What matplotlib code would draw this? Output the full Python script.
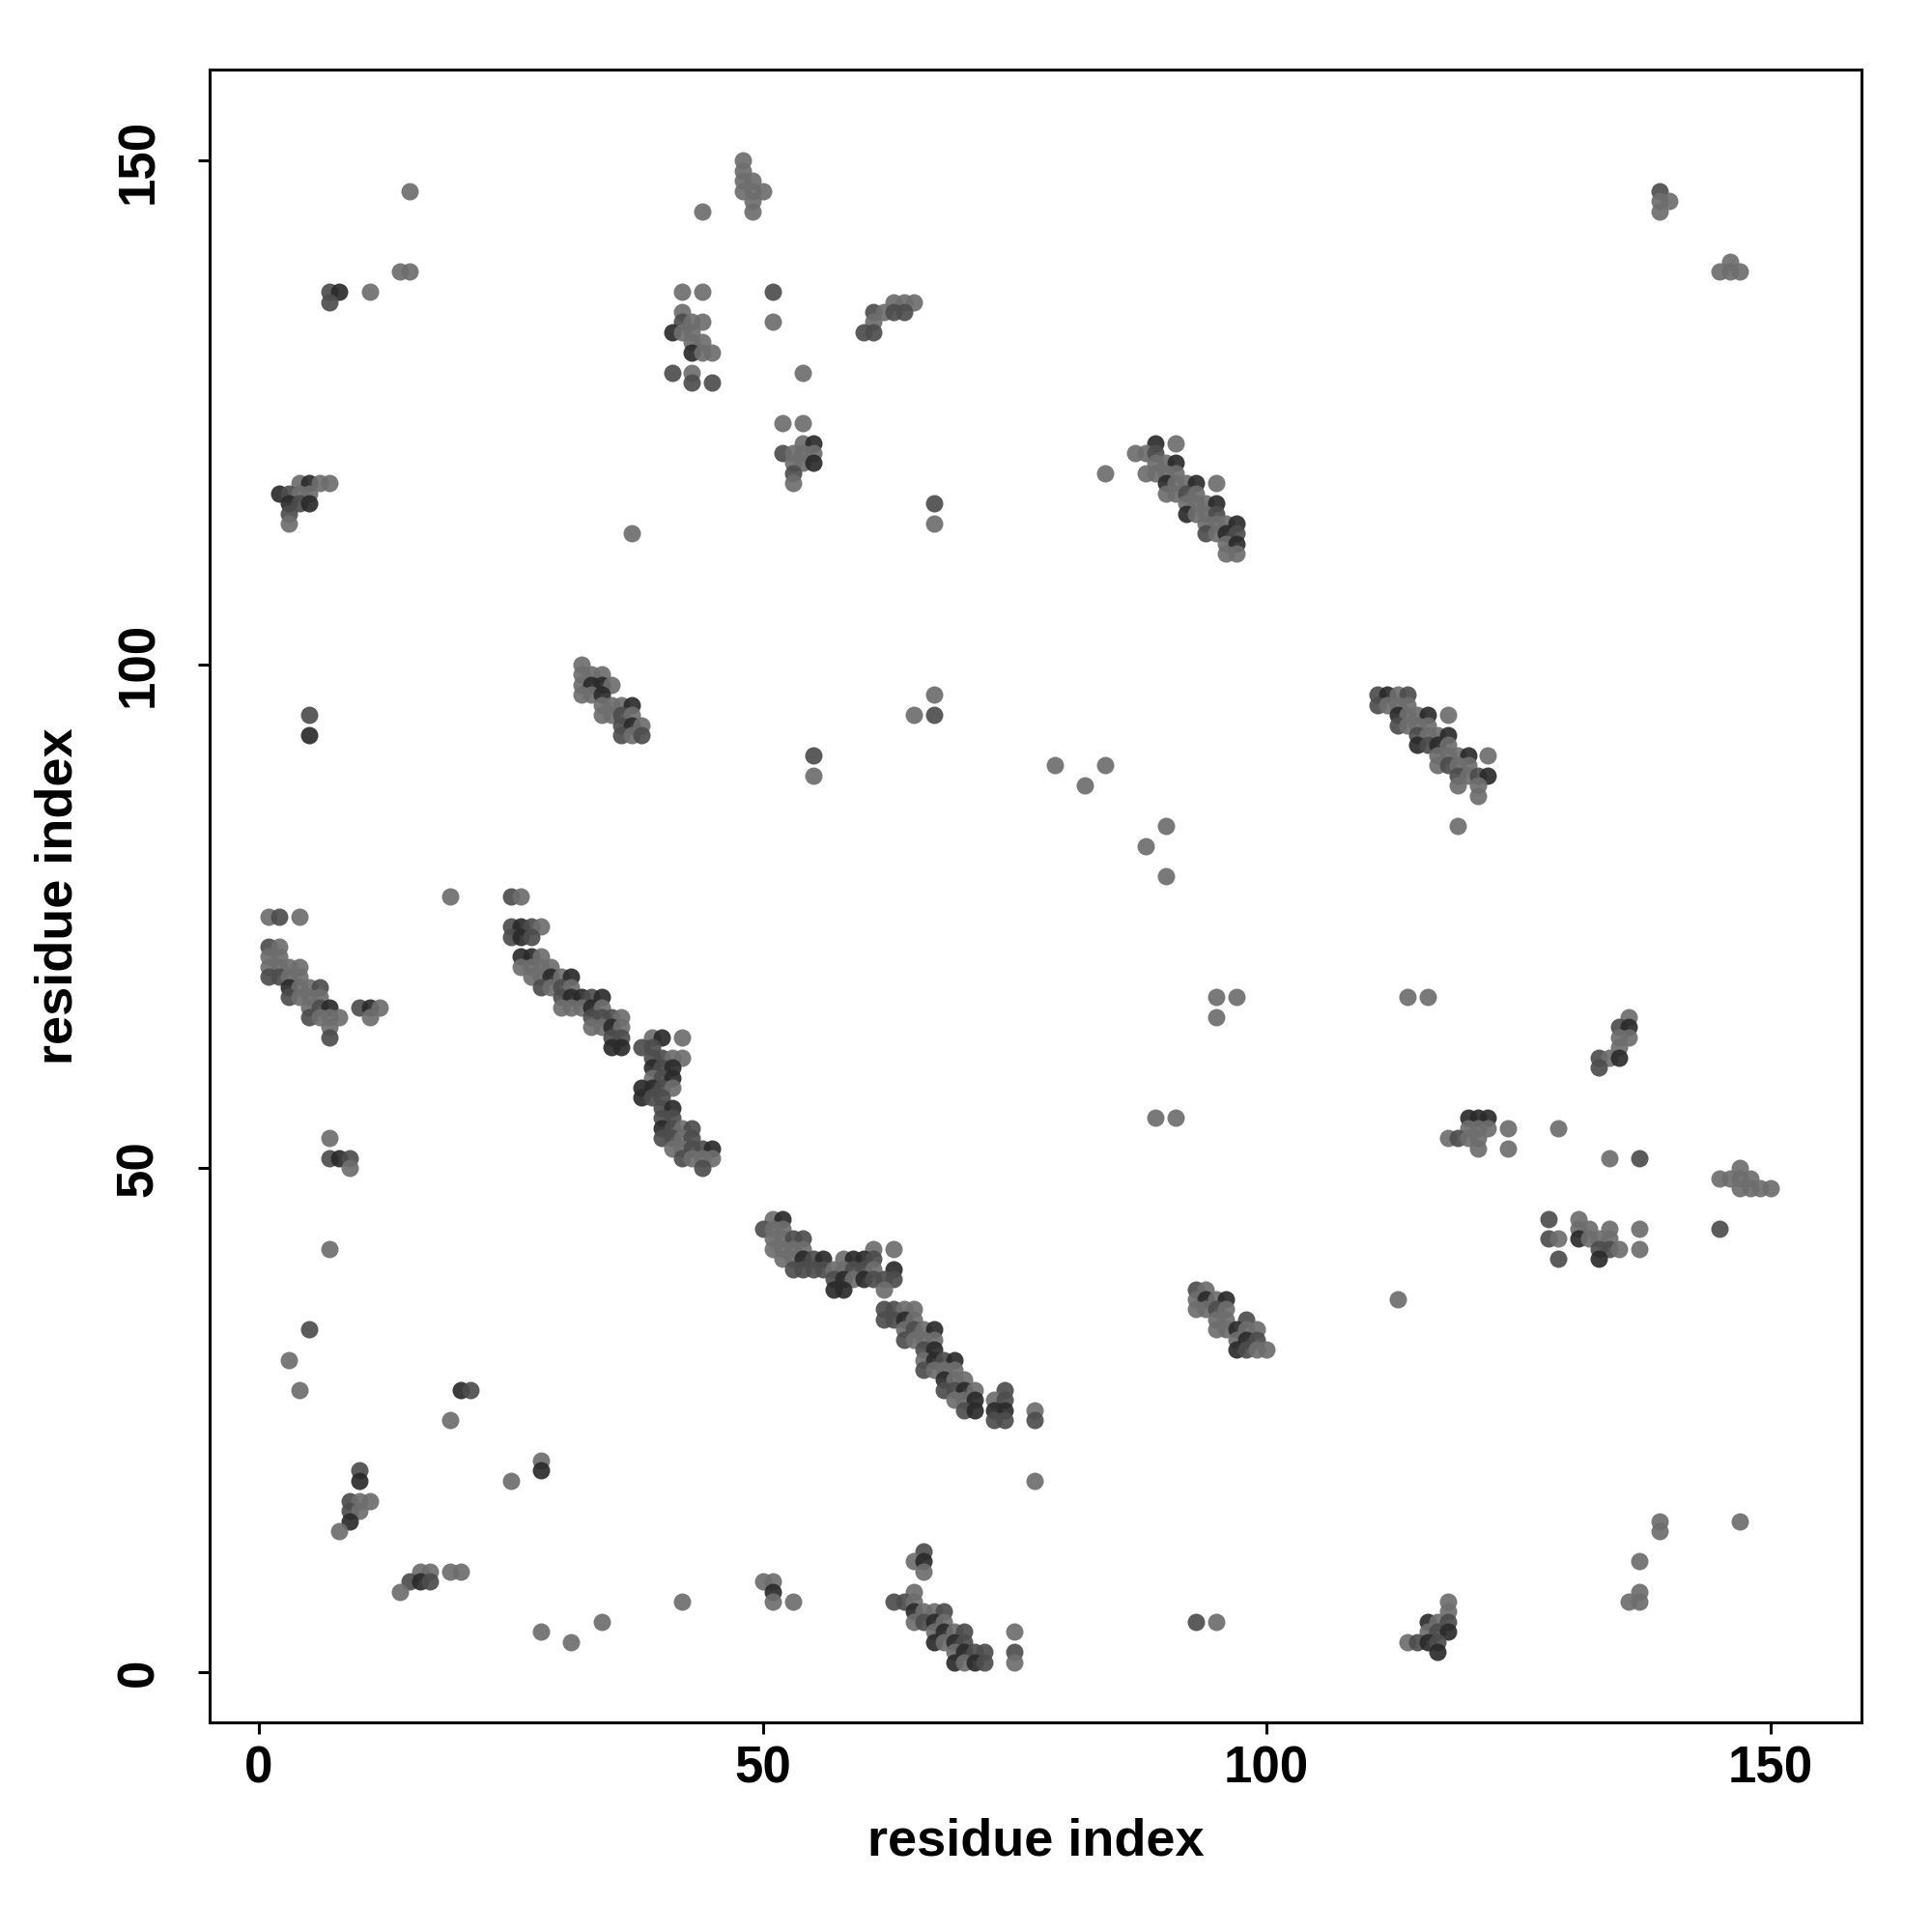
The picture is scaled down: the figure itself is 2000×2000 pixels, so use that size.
import matplotlib
matplotlib.use("Agg")
import matplotlib.pyplot as plt

# contacts, one row per j : residues i in that row
row_j = [150, 149, 148, 147, 146, 145, 140, 139, 137, 136, 135, 134, 133, 132, 131, 129, 128, 124,
         122, 121, 120, 119, 118, 117, 116, 115, 114, 113, 112, 111, 100, 99, 98, 97, 96, 95, 94, 93,
         92, 91, 90, 89, 88, 87, 84, 82, 79, 77, 75, 74, 73, 72, 71, 70, 69, 68, 67, 66, 65, 64, 63,
         62, 61, 60, 59, 58, 57, 56, 55, 54, 53, 52, 51, 50, 49, 48, 45, 44, 43, 42, 41, 40, 39, 38,
         37, 36, 35, 34, 33, 32, 31, 30, 29, 28, 27, 26, 25, 21, 20, 19, 17, 16, 15, 14, 12, 11, 10,
         9, 8, 7, 6, 5, 4, 3, 2, 1]
row_i = [
    [48], [48], [48, 49], [15, 48, 49, 50, 139], [49, 139, 140], [44, 49, 139], [146],
    [14, 15, 145, 146, 147], [7, 8, 11, 42, 44, 51], [7, 63, 64, 65], [42, 61, 62, 63, 64],
    [42, 43, 44, 51, 61], [41, 42, 43, 60, 61], [43, 44], [43, 44, 45], [41, 43, 54], [43, 45],
    [52, 54], [54, 55, 89, 91], [52, 53, 54, 55, 87, 88, 89], [53, 54, 55, 89, 90, 91],
    [53, 84, 88, 89, 90, 91], [4, 5, 6, 7, 53, 90, 91, 92, 93, 95], [2, 3, 4, 5, 90, 91, 92, 93],
    [3, 4, 5, 67, 92, 93, 94, 95], [3, 92, 93, 94, 95], [3, 67, 94, 95, 96, 97],
    [37, 94, 95, 96, 97], [96, 97], [96, 97], [32], [32, 33, 34], [32, 33, 34, 35],
    [32, 33, 34, 67, 111, 112, 113, 114], [34, 35, 36, 37, 111, 112, 113, 114],
    [5, 34, 35, 36, 37, 65, 67, 113, 114, 115, 116, 118], [36, 37, 38, 113, 114, 115, 116],
    [5, 36, 37, 38, 115, 116, 117, 118], [115, 116, 117, 118], [55, 117, 118, 119, 120, 122],
    [79, 84, 117, 118, 119, 120], [55, 119, 120, 121, 122], [82, 119, 121], [121], [90, 119],
    [88], [90], [19, 25, 26], [1, 2, 4], [25, 26, 27, 28], [25, 26, 27], [1, 2],
    [1, 2, 26, 27, 28], [1, 2, 3, 4, 26, 27, 28, 29], [1, 2, 3, 4, 27, 28, 29, 30, 31],
    [3, 4, 5, 6, 28, 29, 30, 31], [3, 4, 5, 6, 30, 31, 32, 33, 34, 95, 97, 114, 116],
    [5, 6, 7, 10, 11, 12, 30, 31, 32, 33, 34], [5, 6, 7, 8, 11, 33, 34, 35, 36, 95, 136],
    [7, 33, 34, 35, 36, 135, 136], [7, 35, 36, 39, 40, 42, 135, 136], [35, 36, 38, 39, 135],
    [39, 40, 41, 42, 133, 134, 135], [39, 40, 41, 133], [39, 40, 41], [38, 39, 40, 41],
    [38, 39, 40], [40, 41], [40, 41, 89, 91, 120, 121, 122], [40, 41, 42, 43, 120, 121, 122, 124, 129],
    [7, 40, 41, 42, 43, 118, 119, 120, 121], [41, 42, 43, 44, 45, 121, 124],
    [7, 8, 9, 42, 43, 44, 45, 134, 137], [9, 44, 147], [145, 146, 147, 148], [147, 148, 149, 150],
    [51, 52, 128, 131], [50, 51, 52, 131, 132, 134, 137, 145],
    [51, 52, 53, 54, 128, 129, 131, 132, 133, 134], [7, 51, 52, 53, 54, 61, 63, 133, 134, 135, 137],
    [52, 53, 54, 55, 56, 58, 59, 60, 61, 129, 133], [53, 54, 55, 56, 57, 58, 59, 60, 61, 63],
    [57, 58, 59, 60, 61, 62, 63], [57, 58, 62, 93, 94], [93, 94, 95, 96, 113],
    [62, 63, 64, 65, 93, 94, 95, 96], [62, 63, 64, 65, 95, 96, 98],
    [5, 64, 65, 66, 67, 95, 96, 97, 98, 99], [64, 65, 66, 67, 97, 98, 99],
    [66, 67, 97, 98, 99, 100], [3, 66, 67, 68, 69], [66, 67, 68, 69], [68, 69, 70],
    [4, 20, 21, 68, 69, 70, 71, 74], [69, 70, 71, 73, 74], [70, 71, 73, 74, 77], [19, 73, 74, 77],
    [28], [10, 28], [10, 25, 77], [9, 10, 11], [9, 10], [9, 139, 147], [8, 139], [66],
    [65, 66, 137], [16, 17, 19, 20, 66], [15, 16, 17, 50, 51], [14, 51, 65, 137],
    [42, 51, 53, 63, 64, 65, 118, 136, 137], [65, 66, 67, 68, 118],
    [34, 65, 66, 67, 68, 93, 95, 116, 117, 118], [28, 67, 68, 69, 70, 75, 116, 117, 118],
    [31, 67, 68, 69, 70, 114, 115, 116, 117], [69, 70, 71, 72, 75, 117], [69, 70, 71, 72, 75],
]

dark_contacts = [
    (26, 74), (26, 73), (26, 71), (27, 71), (29, 69), (31, 69), (31, 67), (32, 67), (34, 67), (33, 66),
    (35, 64), (35, 62), (36, 62), (40, 63), (39, 60), (41, 60), (41, 59), (39, 58), (38, 58), (38, 57),
    (41, 56), (40, 54), (45, 52), (52, 45), (54, 41), (56, 41), (57, 38), (58, 38), (58, 39), (60, 39),
    (59, 41), (60, 41), (63, 40), (64, 35), (67, 34), (67, 32), (67, 31), (69, 31), (68, 29), (70, 28),
    (71, 27), (71, 26), (73, 26), (74, 26), (65, 6), (67, 5), (68, 4), (69, 3), (70, 2), (67, 3), (66, 11),
    (69, 1), (71, 1), (89, 122), (91, 120), (90, 118), (93, 118), (92, 115), (95, 116), (97, 114), (97, 112),
    (96, 113), (112, 97), (113, 95), (116, 95), (118, 93), (115, 92), (117, 92), (120, 91), (122, 89),
    (37, 96), (37, 94), (33, 98), (34, 98), (34, 97), (3, 68), (7, 66), (11, 66), (41, 133), (43, 131),
    (55, 122), (55, 120), (94, 37), (96, 37), (97, 34), (98, 33), (97, 32), (116, 5), (116, 3), (117, 2),
    (118, 4), (136, 64), (135, 61), (131, 43), (133, 41), (2, 117), (3, 116), (5, 118), (5, 116),
    (120, 55), (121, 55), (122, 55), (8, 137), (8, 51), (5, 93), (20, 28), (28, 20), (10, 19), (9, 15),
    (16, 9), (51, 8),
]
mid_contacts = [
    (25, 77), (2, 75), (25, 74), (27, 74), (25, 73), (27, 73), (28, 68), (30, 68), (30, 67), (33, 67),
    (33, 65), (34, 65), (35, 65), (35, 63), (36, 63), (38, 62), (39, 62), (39, 61), (40, 61), (40, 60),
    (40, 59), (40, 58), (39, 57), (40, 57), (40, 56), (41, 55), (40, 55), (41, 54), (40, 53), (41, 53),
    (43, 53), (43, 52), (44, 52), (42, 51), (44, 50), (43, 54), (50, 44), (54, 43), (53, 43), (53, 40),
    (54, 40), (55, 40), (56, 40), (55, 41), (57, 39), (59, 40), (60, 40), (61, 39), (61, 41), (62, 39),
    (63, 39), (62, 36), (62, 35), (63, 36), (63, 35), (64, 33), (65, 34), (66, 32), (66, 30), (68, 31),
    (68, 28), (69, 28), (70, 26), (74, 28), (74, 27), (73, 25), (74, 25), (77, 25), (66, 12), (63, 7),
    (64, 7), (68, 6), (66, 5), (70, 4), (70, 3), (71, 2), (72, 2), (72, 1), (75, 2), (93, 5), (67, 116),
    (89, 121), (95, 115), (97, 113), (94, 113), (92, 117), (111, 97), (111, 96), (114, 97), (113, 94),
    (115, 93), (116, 92), (119, 89), (121, 89), (118, 90), (36, 95), (35, 97), (36, 94), (38, 93),
    (36, 93), (1, 69), (2, 69), (3, 67), (5, 65), (6, 66), (7, 63), (2, 75), (1, 72), (6, 68), (10, 66),
    (42, 134), (41, 129), (45, 128), (43, 128), (51, 137), (53, 119), (52, 121), (61, 133), (60, 133),
    (61, 135), (63, 135), (64, 135), (93, 38), (95, 36), (98, 35), (99, 33), (98, 32), (117, 4), (117, 3),
    (115, 3), (118, 5), (135, 64), (133, 60), (133, 61), (128, 45), (128, 43), (129, 41), (133, 42),
    (134, 42), (137, 51), (3, 117), (4, 116), (3, 115), (7, 137), (7, 136), (5, 95), (5, 34), (21, 28),
    (7, 51), (9, 51), (17, 9), (15, 9), (10, 20), (9, 16), (9, 17), (139, 147), (145, 44), (119, 53),
    (67, 95), (55, 91),
]
tick_values = [0, 50, 100, 150]

plt.rcParams['font.family'] = ['Liberation Sans', 'DejaVu Sans']

fig = plt.figure(figsize=(10, 10), dpi=200)
ax = fig.add_axes([217 / 2000, 1 - 1783 / 2000, 1710 / 2000, 1711 / 2000])

for j, residues in zip(row_j, row_i):
    for i in residues:
        if (i, j) in dark_contacts:
            grey = 0.17
        elif (i, j) in mid_contacts:
            grey = 0.3
        else:
            grey = 0.43
        ax.scatter(i, j, s=42, color=str(grey), alpha=0.92, linewidths=0, clip_on=False)

ax.set_xlim(-4.89, 159.06)
ax.set_ylim(-4.99, 159.06)
ax.set_xticks(tick_values)
ax.set_yticks(tick_values)
ax.tick_params(axis='both', length=4.3, width=1.1, labelsize=19)
ax.tick_params(axis='x', pad=4)
ax.tick_params(axis='y', pad=13)
for lab in ax.get_xticklabels():
    lab.set_fontweight('bold')
for lab in ax.get_yticklabels():
    lab.set_fontweight('bold')
    lab.set_rotation(90)
    lab.set_va('center')
for side in ax.spines.values():
    side.set_linewidth(1.1)
ax.set_xlabel('residue index', fontsize=19.5, fontweight='bold', labelpad=9)
ax.set_ylabel('residue index', fontsize=19.5, fontweight='bold', labelpad=12)

fig.savefig('out.png', dpi=200)
